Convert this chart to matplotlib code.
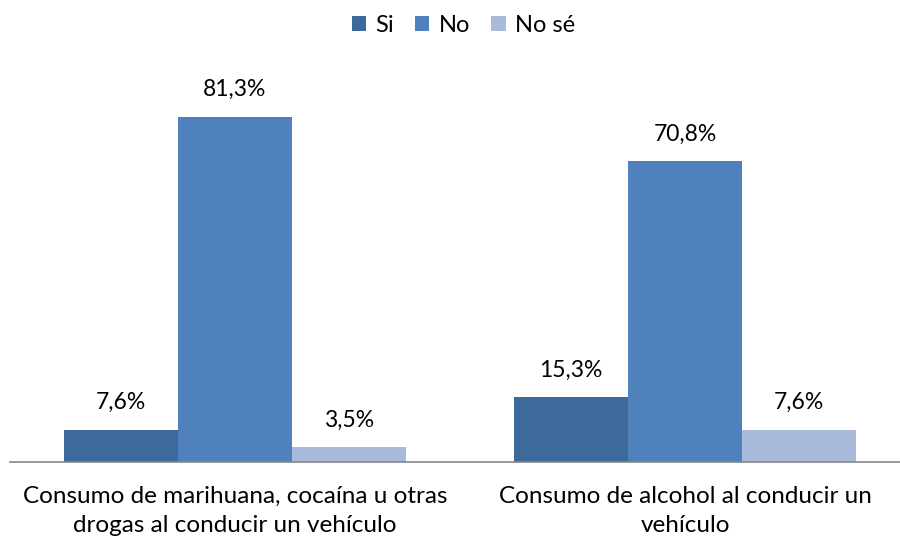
import matplotlib.pyplot as plt
import numpy as np

# datos de la encuesta
categorias = ['Consumo de marihuana, cocaína u otras\ndrogas al conducir un vehículo',
              'Consumo de alcohol al conducir un\nvehículo']
series = ['Si', 'No', 'No sé']
si = [7.6, 15.3]
no = [81.3, 70.8]
no_se = [3.5, 7.6]
colores = ['#3E6A9B', '#4F81BD', '#AABADA']

plt.rcParams['font.family'] = ['Lato', 'DejaVu Sans']

fig = plt.figure(figsize=(9, 5.4), dpi=100)
ax = fig.add_axes([10 / 900, 78 / 540, 900 / 900, 382 / 540])

x = np.arange(len(categorias))
ancho = 0.254
for i, (nombre, valores) in enumerate(zip(series, [si, no, no_se])):
    barras = ax.bar(x + (i - 1) * ancho, valores, ancho, color=colores[i],
                    label=nombre, zorder=2)
    for b, v in zip(barras, valores):
        ax.annotate(('%.1f%%' % v).replace('.', ','),
                    (b.get_x() + b.get_width() / 2, v),
                    xytext=(0, 12), textcoords='offset points',
                    ha='center', va='bottom', fontsize=16.5, color='#000000')

ax.set_xlim(-0.5, 1.5)
ax.set_ylim(0, 90)
ax.set_xticks(x)
ax.set_xticklabels(categorias, fontsize=17.5, linespacing=1.5)
ax.tick_params(axis='x', length=0, pad=17)
ax.set_yticks([])
for lado in ['top', 'right', 'left']:
    ax.spines[lado].set_visible(False)
ax.spines['bottom'].set_color('#868686')
ax.spines['bottom'].set_linewidth(1.2)

fig.legend(loc='upper center', bbox_to_anchor=(0.515, 1.012), ncol=3, frameon=False,
           fontsize=17, handlelength=0.6, handleheight=0.6, handletextpad=0.4,
           columnspacing=0.9)

plt.savefig('out.png')
